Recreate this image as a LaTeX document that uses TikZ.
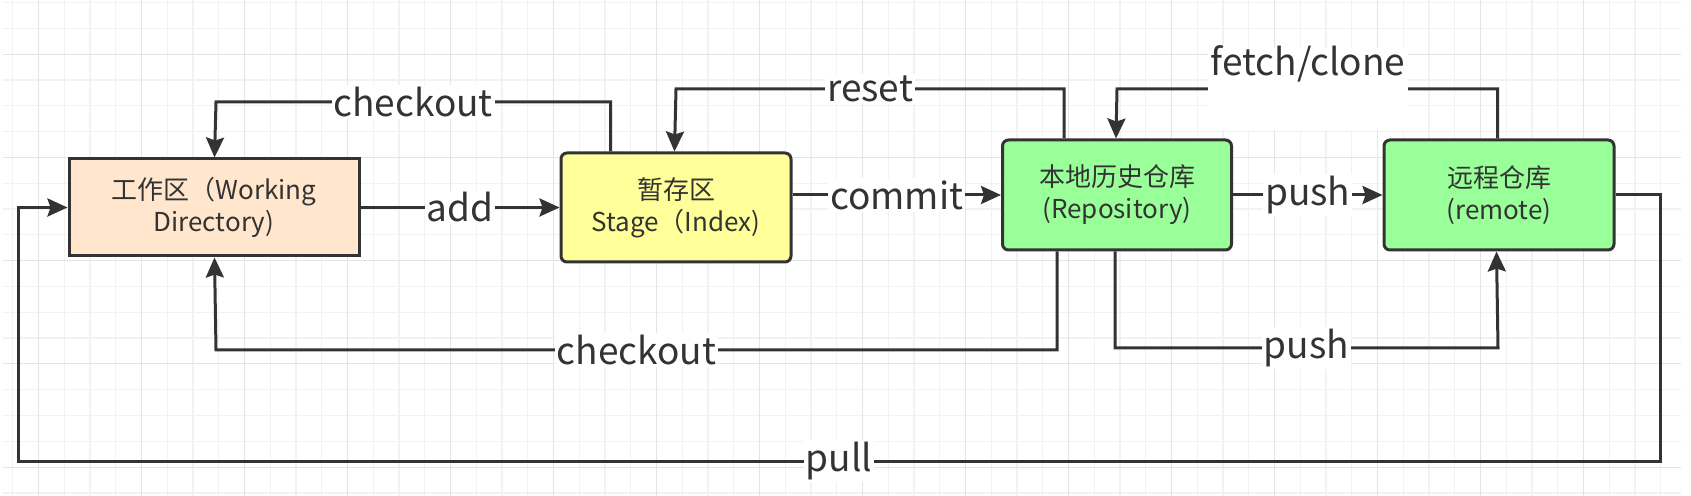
\documentclass[tikz,border=0pt]{standalone}
\usepackage{fontspec}
\setmainfont{Noto Sans CJK SC}
\usetikzlibrary{arrows.meta}
\definecolor{ln}{HTML}{333333}
\definecolor{txt}{HTML}{333333}
\definecolor{peach}{HTML}{FFE6CC}
\definecolor{yel}{HTML}{FFFF99}
\definecolor{grn}{HTML}{99FF99}
\definecolor{gminor}{HTML}{F2F2F2}
\definecolor{gmajor}{HTML}{E4E4E4}
\begin{document}
\begin{tikzpicture}[x=0.5pt,y=-0.5pt,
  box/.style={draw=ln, line width=1.5pt, text=txt, font=\fontsize{13}{16}\selectfont, align=center, inner sep=0pt},
  rbox/.style={box, rounded corners=3pt},
  conn/.style={draw=ln, line width=1.5pt, -{Stealth[length=10pt,width=9pt,inset=1.5pt]}},
  lbl/.style={fill=white, text=txt, font=\fontsize{18.5}{22}\selectfont, inner sep=1pt},
  gridminor/.style={draw=gminor, line width=0.6pt},
  gridmajor/.style={draw=gmajor, line width=0.6pt},
]
\useasboundingbox (0,0) rectangle (1691,496);
\fill[white] (0,0) rectangle (1691,496);
% grid
\foreach \i in {0,...,64} { \draw[gridminor] ({12.7+25.75*\i},0) -- ++(0,496); }
\foreach \j in {0,...,19} { \draw[gridminor] (3,{2.7+25.8*\j}) -- (1681,{2.7+25.8*\j}); }
\foreach \i in {0,...,15} { \draw[gridmajor] ({38.45+103*\i},0) -- ++(0,496); }
\foreach \j in {0,...,4} { \draw[gridmajor] (3,{54.3+103.2*\j}) -- (1681,{54.3+103.2*\j}); }

% boxes
\node[box, fill=peach, minimum width=145pt, minimum height=48.5pt] (work) at (214,207.5) {工作区（Working\\Directory)};
\node[rbox, fill=yel, minimum width=115pt, minimum height=54.5pt] (stage) at (676,207.5) {暂存区\\Stage（Index)};
\node[rbox, fill=grn, minimum width=114.5pt, minimum height=55pt] (repo) at (1117,195) {本地历史仓库\\(Repository)};
\node[rbox, fill=grn, minimum width=115pt, minimum height=55pt] (remote) at (1499,195) {远程仓库\\(remote)};

% straight connectors
\draw[conn] (work.east) -- node[lbl] {add} (stage.west);
\draw[conn] (repo.west -| stage.east) -- node[lbl] {commit} (repo.west);
\draw[conn] (repo.east) -- node[lbl] {push} (remote.west);

% upper connectors
\draw[conn] ([xshift=25.5pt]stage.north west) |- node[lbl,pos=0.75] {checkout} (216,102) -- ([xshift=73.5pt]work.north west);
\draw[conn] ([xshift=31.5pt]repo.north west) |- node[lbl,pos=0.75] {reset} (676,89) -- ([xshift=57.5pt]stage.north west);
\draw[conn] ([xshift=57.5pt]remote.north west) |- (1117,89) -- ([xshift=57.5pt]repo.north west);
\node[lbl, anchor=base, minimum width=100pt, text height=14pt, text depth=27pt, inner sep=0pt] (fetchlbl) at (1308,76) {fetch/clone};

% lower connectors
\draw[conn] ([xshift=28pt]repo.south west) |- node[lbl,pos=0.75] {checkout} (216,350) -- ([xshift=73.5pt]work.south west);
\draw[conn] ([xshift=57pt]repo.south west) |- node[lbl,pos=0.75] {push} (1498,348) -- ([xshift=57pt]remote.south west);
\draw[conn] (remote.east) -| (1660,461) -- node[lbl] {pull} (18,461) |- (work.west);
\end{tikzpicture}
\end{document}
